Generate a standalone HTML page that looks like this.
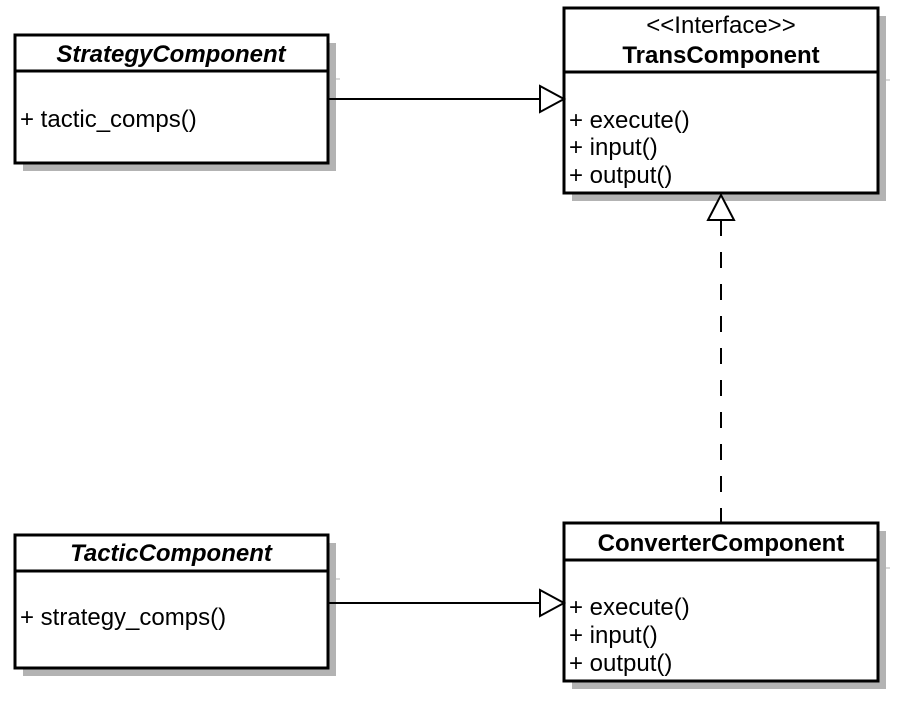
<!DOCTYPE html>
<html><head><style>
body{margin:0;background:#fff;}
svg text{font-family:"Liberation Sans",Arial,sans-serif;font-size:24px;fill:#000;}
</style></head><body>
<svg width="906" height="702" xmlns="http://www.w3.org/2000/svg">
<g fill="#b3b3b3" stroke="none">
<rect x="23" y="43" width="313" height="128"/>
<rect x="572" y="16" width="314" height="185"/>
<rect x="23" y="543" width="313" height="133"/>
<rect x="572" y="531" width="314" height="158"/>
</g>
<g stroke="#b3b3b3" stroke-width="1">
<line x1="328" y1="79" x2="340" y2="79"/>
<line x1="878" y1="80" x2="890" y2="80"/>
<line x1="328" y1="579" x2="340" y2="579"/>
<line x1="878" y1="568" x2="890" y2="568"/>
</g>
<g fill="#fff" stroke="#000" stroke-width="3">
<rect x="15" y="35" width="313" height="128"/>
<rect x="564" y="8" width="314" height="185"/>
<rect x="15" y="535" width="313" height="133"/>
<rect x="564" y="523" width="314" height="158"/>
</g>
<g stroke="#000" stroke-width="3">
<line x1="15" y1="71" x2="328" y2="71"/>
<line x1="564" y1="72" x2="878" y2="72"/>
<line x1="15" y1="571" x2="328" y2="571"/>
<line x1="564" y1="560" x2="878" y2="560"/>
</g>
<g stroke="#000" stroke-width="2" fill="#fff">
<line x1="328" y1="99" x2="540" y2="99"/>
<polygon points="540,86 564,99 540,112"/>
<line x1="328" y1="603" x2="540" y2="603"/>
<polygon points="540,590 564,603 540,616"/>
<line x1="721" y1="220" x2="721" y2="523" stroke-dasharray="16,16"/>
<polygon points="708,220 721,195 734,220"/>
</g>
<text x="171" y="62" text-anchor="middle" font-weight="bold" font-style="italic">StrategyComponent</text>
<text x="20" y="127">+ tactic_comps()</text>
<text x="721" y="33" text-anchor="middle">&lt;&lt;Interface&gt;&gt;</text>
<text x="721" y="63" text-anchor="middle" font-weight="bold">TransComponent</text>
<text x="569" y="128">+ execute()</text>
<text x="569" y="155">+ input()</text>
<text x="569" y="183">+ output()</text>
<text x="171" y="561" text-anchor="middle" font-weight="bold" font-style="italic">TacticComponent</text>
<text x="20" y="625">+ strategy_comps()</text>
<text x="721" y="551" text-anchor="middle" font-weight="bold">ConverterComponent</text>
<text x="569" y="615">+ execute()</text>
<text x="569" y="643">+ input()</text>
<text x="569" y="671">+ output()</text>
</svg>
</body></html>
